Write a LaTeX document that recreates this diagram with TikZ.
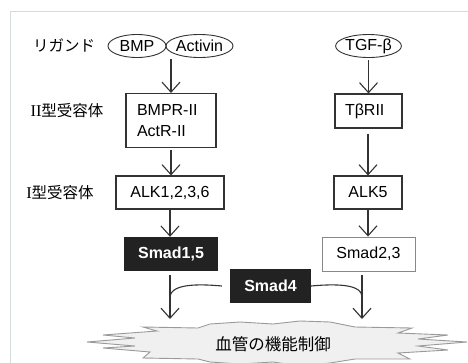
\documentclass[tikz,border=0pt]{standalone}
\usepackage{fontspec}
\setmainfont{Liberation Sans}
\newfontfamily\jp{Noto Sans CJK JP}
\newfontfamily\romnum{Liberation Serif}
\usetikzlibrary{arrows.meta,shapes.geometric}
\definecolor{framec}{HTML}{D3DCDC}
\definecolor{lc}{HTML}{333333}
\definecolor{boxdark}{HTML}{222222}
\definecolor{burstfill}{HTML}{F0F0F0}
\definecolor{burstline}{HTML}{9A9A9A}
\definecolor{graybox}{HTML}{888888}
\begin{document}
\begin{tikzpicture}[x=1pt,y=-1pt,
  font=\fontsize{16}{20.5}\selectfont,
  lig/.style={draw=lc, ellipse, inner sep=0pt, minimum height=23pt, line width=0.9pt},
  box/.style={draw=lc, line width=1.1pt, inner sep=0pt, align=left},
  dbox/.style={fill=boxdark, inner sep=0pt, text=white, font=\fontsize{16}{18}\selectfont\bfseries},
  arr/.style={draw=lc, line width=1.1pt, -{Straight Barb[length=10pt,width=18pt]}},
  conn/.style={draw=lc, line width=1.1pt},
  lbl/.style={font=\jp\fontsize{15.5}{18}\selectfont}]
\useasboundingbox (0,0) rectangle (468,362);
\begin{scope}
\clip (0,0) rectangle (468,362);
\draw[framec, line width=1pt] (10,11) rectangle (480,380);
\filldraw[fill=burstfill, draw=burstline, line width=0.9pt]
  (87,342) -- (135,338) -- (103,335) -- (157,331) -- (143,327) -- (198,328)
  -- (210,324) -- (240,322) -- (273,324) -- (300,321) -- (330,322) -- (355,327)
  -- (412,328) -- (398,333) -- (448,335) -- (418,339) -- (467,342)
  -- (418,346) -- (448,350) -- (398,353) -- (410,359) -- (355,359)
  -- (330,363) -- (300,366) -- (273,362) -- (240,364) -- (210,362) -- (198,359)
  -- (143,358) -- (150,352) -- (103,348) -- (135,346) -- cycle;
\end{scope}
\node[lbl, font=\jp\fontsize{16.5}{18}\selectfont] (burst) at (273,344) {血管の機能制御};

% labels
\node[lbl] (lLig) at (64,45) {リガンド};
\node[lbl] (lII) at (67,111) {{\romnum\fontsize{16.5}{18}\selectfont II}型受容体};
\node[lbl] (lI) at (60,193) {{\romnum\fontsize{16.5}{18}\selectfont I}型受容体};

% ligands
\node[lig, minimum width=58pt] (bmp) at (137,46) {BMP};
\node[lig, minimum width=67pt] (act) at (199.5,46) {Activin};
\node[lig, minimum width=63pt] (tgf) at (368.5,46) {TGF-β};
\coordinate (lig1) at (171,59);

% type II receptors
\node[box, minimum width=90pt, minimum height=54pt, text width=68pt] (bmpr) at (171,120.5) {BMPR-II\\ActR-II};
\node[box, minimum width=67pt, minimum height=34pt, text width=47pt] (tbr) at (368.5,111) {TβRII};

% type I receptors
\node[box, minimum width=108pt, minimum height=33pt, align=center] (alk) at (170,192.5) {ALK1,2,3,6};
\node[box, minimum width=68pt, minimum height=33pt, align=center] (alk5) at (368,192.5) {ALK5};

% Smads
\node[dbox, minimum width=94pt, minimum height=34pt] (s15) at (171,254) {Smad1,5};
\node[draw=graybox, line width=0.9pt, inner sep=0pt, minimum width=93pt, minimum height=34pt] (s23) at (368.5,254) {Smad2,3};
\node[dbox, minimum width=81pt, minimum height=34pt] (s4) at (270.5,286) {Smad4};

\coordinate (t1) at (170,319);
\coordinate (t2) at (362,319);
\coordinate (m1) at (170,296);
\coordinate (m2) at (362,296);

% arrows
\draw[arr] (lig1) -- (bmpr.north);
\draw[arr, shorten <=2pt] (tgf.south) -- (tbr.north -| tgf.south);
\draw[arr, shorten <=2pt] (bmpr.south) -- (bmpr.south |- alk.north);
\draw[arr, shorten <=5pt] (tbr.south -| alk5.north) -- (alk5.north);
\draw[arr] (alk.south) -- (alk.south |- s15.north);
\draw[arr] (alk5.south) -- (alk5.south |- s23.north);
\draw[arr, shorten <=4pt] (s15.south -| t1) -- (t1);
\draw[arr, shorten <=4pt] (s23.south -| t2) -- (t2);
\draw[conn] ([xshift=-8pt]s4.west) .. controls (190,283) and (172,286) .. (m1);
\draw[conn] (s4.east) .. controls (343,283) and (361,286) .. (m2);
\end{tikzpicture}
\end{document}
